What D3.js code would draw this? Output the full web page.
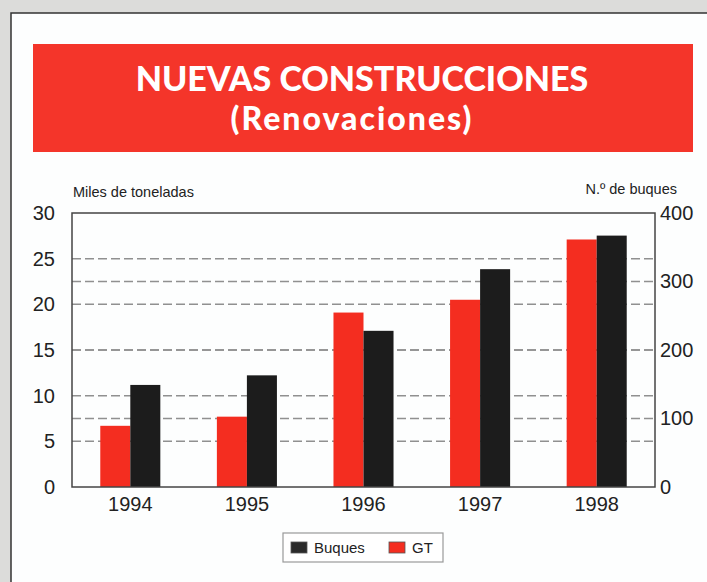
<!DOCTYPE html>
<html>
<head>
<meta charset="utf-8">
<script src="https://cdn.jsdelivr.net/npm/d3@7"></script>
<style>
  body { margin: 0; background: #dcdcda; }
  svg { display: block; }
</style>
</head>
<body>
<svg id="chart"></svg>
<script>
// data
let years = ["1994", "1995", "1996", "1997", "1998"];
let gt = [6.7, 7.7, 19.1, 20.5, 27.1];          // miles de toneladas (left axis)
let buques = [149, 163, 228, 318, 367];          // n.º de buques (right axis)
let leftTicks = [0, 5, 10, 15, 20, 25, 30];
let rightTicks = [0, 100, 200, 300, 400];
let series = ["GT", "Buques"];
let legendItems = ["Buques", "GT"];

let width = 707;
let height = 582;
let red = "#f42d20";
let black = "#1c1c1c";

let chart = d3.select("#chart").attr("width", width).attr("height", height);

// panel
chart.append("rect")
    .attr("x", 11).attr("y", 13)
    .attr("width", width).attr("height", height)
    .attr("fill", "#fdfefe")
    .attr("stroke", "#333").attr("stroke-width", 1.5);

// title box
chart.append("rect")
    .attr("x", 33).attr("y", 44)
    .attr("width", 660).attr("height", 108)
    .attr("fill", "#f4352a");

chart.append("text")
    .attr("x", 362).attr("y", 91)
    .attr("text-anchor", "middle")
    .style("font-family", "Lato, 'Open Sans', sans-serif")
    .style("font-weight", 900)
    .style("font-size", "34px")
    .attr("fill", "white")
    .text("NUEVAS CONSTRUCCIONES");

chart.append("text")
    .attr("x", 352).attr("y", 130)
    .attr("text-anchor", "middle")
    .style("font-family", "Lato, 'Open Sans', sans-serif")
    .style("font-weight", 900)
    .style("font-size", "32px")
    .style("letter-spacing", "2px")
    .attr("fill", "white")
    .text("(Renovaciones)");

let plotLeft = 72, plotRight = 655, plotTop = 213, plotBottom = 487;

let x = d3.scaleBand()
    .domain(years)
    .range([plotLeft, plotRight])
    .paddingInner(0.485)
    .paddingOuter(0.2425);

let x1 = d3.scaleBand()
    .domain(series)
    .range([0, x.bandwidth()]);

let yL = d3.scaleLinear().domain([0, 30]).range([plotBottom, plotTop]);
let yR = d3.scaleLinear().domain([0, 400]).range([plotBottom, plotTop]);

// dashed grid lines: left ticks plus right ticks
let gridVals = leftTicks.filter(d => d > 0 && d < 30)
    .concat(rightTicks.filter(d => d > 0 && d < 400).map(d => yL.invert(yR(d))));

chart.append("g").selectAll("line").data(gridVals)
    .enter().append("line")
    .attr("x1", plotLeft).attr("x2", plotRight)
    .attr("y1", d => yL(d)).attr("y2", d => yL(d))
    .attr("stroke", "#909090")
    .attr("stroke-width", 1.5)
    .attr("stroke-dasharray", "9,4");

// bars
let groups = chart.append("g").selectAll("g").data(years)
    .enter().append("g")
    .attr("transform", d => "translate(" + x(d) + ",0)");

groups.append("rect")
    .attr("x", x1("GT"))
    .attr("width", x1.bandwidth())
    .attr("y", (d, i) => yL(gt[i]))
    .attr("height", (d, i) => plotBottom - yL(gt[i]))
    .attr("fill", red);

groups.append("rect")
    .attr("x", x1("Buques"))
    .attr("width", x1.bandwidth())
    .attr("y", (d, i) => yR(buques[i]))
    .attr("height", (d, i) => plotBottom - yR(buques[i]))
    .attr("fill", black);

// plot frame
chart.append("rect")
    .attr("x", plotLeft).attr("y", plotTop)
    .attr("width", plotRight - plotLeft).attr("height", plotBottom - plotTop)
    .attr("fill", "none")
    .attr("stroke", "#444").attr("stroke-width", 1.5);

let font = "'Liberation Sans', Arial, sans-serif";

// axes
let axL = chart.append("g")
    .attr("transform", "translate(" + plotLeft + ",0)")
    .call(d3.axisLeft(yL).tickValues(leftTicks).tickSize(0).tickPadding(17));
let axR = chart.append("g")
    .attr("transform", "translate(" + plotRight + ",0)")
    .call(d3.axisRight(yR).tickValues(rightTicks).tickSize(0).tickPadding(5));
let axB = chart.append("g")
    .attr("transform", "translate(0," + plotBottom + ")")
    .call(d3.axisBottom(x).tickSize(0).tickPadding(10));

[axL, axR, axB].forEach(a => {
    a.select(".domain").remove();
    a.selectAll("text")
        .style("font-family", font)
        .style("font-size", "20px")
        .attr("fill", "#222");
});

// axis titles
chart.append("text")
    .attr("x", 73).attr("y", 197)
    .style("font-family", font).style("font-size", "14.5px")
    .attr("fill", "#222")
    .text("Miles de toneladas");

chart.append("text")
    .attr("x", 677).attr("y", 194)
    .attr("text-anchor", "end")
    .style("font-family", font).style("font-size", "14.5px")
    .attr("fill", "#222")
    .text("N.º de buques");

// legend
let legend = chart.append("g").attr("transform", "translate(283,533)");
legend.append("rect")
    .attr("width", 160).attr("height", 29)
    .attr("fill", "white")
    .attr("stroke", "#999").attr("stroke-width", 1.2);

let legendX = [8, 106];
let legendItem = legend.selectAll("g.item").data(legendItems)
    .enter().append("g")
    .attr("class", "item")
    .attr("transform", (d, i) => "translate(" + legendX[i] + ",9)");
legendItem.append("rect")
    .attr("width", 16).attr("height", 11)
    .attr("fill", d => d == "GT" ? red : "#2a2a2a")
    .attr("stroke", "#555").attr("stroke-width", 0.8);
legendItem.append("text")
    .attr("x", 23).attr("y", 11)
    .style("font-family", font).style("font-size", "15px")
    .attr("fill", "#222")
    .text(d => d);
</script>
</body>
</html>
